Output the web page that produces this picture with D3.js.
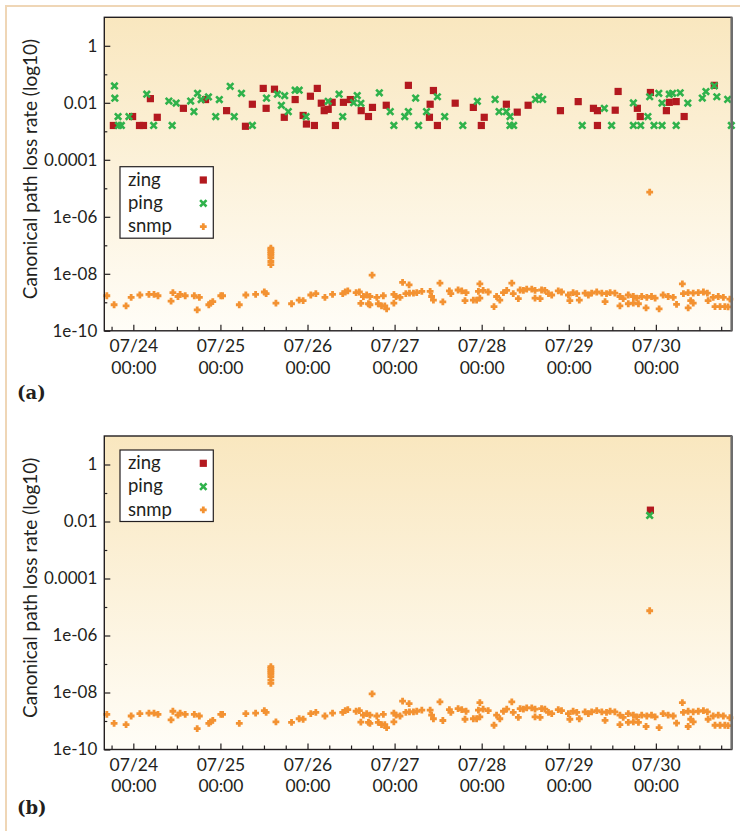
<!DOCTYPE html>
<html>
<head>
<meta charset="utf-8">
<script src="https://cdn.jsdelivr.net/npm/d3@7"></script>
<style>
  body { margin: 0; background: #fff; }
  text { fill: #231f20; }
</style>
</head>
<body>
<svg width="740" height="831"></svg>
<script>
// [hours since 07/23 00:00, loss rate]
const zing = [[18.5,1.6e-3],[23.8,3.3e-3],[25.7,1.6e-3],[26.8,1.6e-3],[28.7,1.4e-2],[30.6,3.1e-3],[37.8,6.4e-3],
  [43.9,1.3e-2],[49.7,5.3e-3],[54.9,1.5e-3],[56.8,8.9e-3],[59.8,3.2e-2],[60.6,6.4e-3],[62.9,3.0e-2],[65.6,3.1e-3],
  [68.6,1.3e-2],[70.8,3.6e-3],[71.7,1.8e-3],[72.8,1.7e-2],[73.9,1.6e-3],[74.7,3.2e-2],[75.8,9.7e-3],[76.6,5.3e-3],
  [77.7,5.9e-3],[78.8,1.04e-2],[79.7,1.6e-3],[81.9,1.04e-2],[83.8,1.3e-2],[86.8,5.3e-3],[88.8,3.3e-3],[89.9,6.9e-3],
  [93.7,8.2e-3],[99.8,4.1e-2],[105.6,3.1e-3],[105.8,8.9e-3],[106.7,2.7e-2],[107.8,1.6e-3],[112.7,9.7e-3],
  [117.7,6.9e-3],[119.9,1.6e-3],[120.7,3.1e-3],[126.8,8.9e-3],[129.8,4.7e-3],[132.8,8.2e-3],[141.7,5.3e-3],
  [146.6,1.1e-2],[150.8,6.4e-3],[151.9,5.3e-3],[151.9,1.6e-3],[156.8,5.5e-3],[157.6,2.5e-2],[162.9,6.4e-3],
  [163.7,3.3e-3],[166.5,2.3e-2],[170.9,5.3e-3],[171.7,1.04e-2],[173.6,1.1e-2],[175.8,3.3e-3],[184.1,4.1e-2]];

const ping = [[18.8,3.9e-2],[18.9,1.45e-2],[19.8,3.3e-3],[19.9,1.6e-3],[20.7,1.6e-3],[22.8,3.3e-3],[27.7,2.0e-2],
  [29.6,1.6e-3],[33.8,1.15e-2],[34.7,1.6e-3],[35.8,9.8e-3],[39.8,1.15e-2],[40.7,4.9e-3],[41.7,2.15e-2],[42.7,1.3e-2],
  [44.7,1.6e-2],[46.7,3.3e-3],[47.7,1.3e-2],[50.7,3.8e-2],[51.8,3.3e-3],[53.8,2.15e-2],[56.8,1.6e-3],[60.7,1.46e-2],
  [63.7,2.0e-2],[64.8,8.2e-3],[65.7,1.77e-2],[66.7,4.9e-3],[68.6,2.76e-2],[69.7,2.76e-2],[71.6,3.3e-3],[77.7,1.13e-2],
  [80.7,2.0e-2],[81.7,3.3e-3],[84.7,1.01e-2],[85.7,1.8e-2],[86.7,9.6e-3],[91.8,2.25e-2],[94.8,4.9e-3],[95.8,1.6e-3],
  [98.8,3.3e-3],[99.8,4.9e-3],[101.8,1.47e-2],[102.6,1.6e-3],[104.8,4.9e-3],[107.8,1.63e-2],[109.8,3.3e-3],
  [114.8,1.6e-3],[118.8,1.13e-2],[123.7,1.32e-2],[124.8,4.9e-3],[126.8,4.9e-3],[127.8,3.3e-3],[127.8,1.6e-3],
  [128.8,1.6e-3],[134.8,1.32e-2],[135.8,1.63e-2],[136.8,1.32e-2],[147.7,1.6e-3],[153.8,6.4e-3],[155.8,1.6e-3],
  [161.8,9.9e-3],[161.8,1.6e-3],[163.8,1.6e-3],[165.8,3.3e-3],[166.3,1.63e-2],[167.5,1.6e-3],[168.8,2.15e-2],
  [169.7,1.6e-3],[169.7,9.8e-3],[171.7,2.0e-2],[172.6,2.15e-2],[174.7,2.25e-2],[173.6,1.6e-3],[176.8,9.8e-3],
  [180.8,1.47e-2],[181.8,2.49e-2],[184.1,3.96e-2],[184.8,1.63e-2],[187.8,1.32e-2],[188.8,1.6e-3]];

const snmp = [[16.7,1.7e-9],[18.7,8.2e-10],[22.0,7.5e-10],[23.4,1.5e-9],[25.8,1.8e-9],[28.3,1.9e-9],[29.7,1.9e-9],
  [30.8,1.7e-9],[34.4,1.1e-9],[34.9,2.2e-9],[36.3,1.6e-9],[36.9,1.9e-9],[38.3,1.7e-9],[40.8,1.7e-9],[41.6,5.4e-10],
  [42.2,1.5e-9],[44.8,8.2e-10],[45.3,9.3e-10],[45.9,1.05e-9],[48.1,1.7e-9],[48.6,1.7e-9],[53.2,8.2e-10],[55.0,1.8e-9],
  [57.7,1.9e-9],[60.1,2.3e-9],[60.6,2.0e-9],
  [61.9,8.0e-8],[61.9,7.0e-8],[61.9,6.0e-8],[61.9,5.2e-8],[61.9,4.4e-8],[61.9,3.6e-8],[61.9,2.7e-8],[61.9,2.1e-8],
  [63.3,9.3e-10],[67.6,8.9e-10],[69.7,1.2e-9],[70.8,1.15e-9],[72.9,1.8e-9],[74.3,2.0e-9],[76.8,1.5e-9],[78.9,1.9e-9],
  [81.7,2.0e-9],[82.4,2.3e-9],[83.1,2.5e-9],[85.4,2.2e-9],[86.3,2.3e-9],[86.7,9.1e-10],[87.4,1.6e-9],[88.3,1.8e-9],
  [88.8,8.9e-10],[89.8,9.0e-9],[89.2,1.6e-9],[91.1,1.5e-9],[92.9,1.7e-9],[89.2,8.2e-10],[91.5,8.9e-10],[92.4,7.5e-10],
  [93.8,5.9e-10],[93.3,7.5e-10],[95.8,1.9e-9],[95.8,9.3e-10],[96.4,1.6e-9],[97.5,1.5e-9],[98.2,5.0e-9],[99.1,2.0e-9],
  [100.1,2.1e-9],[101.2,2.1e-9],[102.1,2.2e-9],[103.5,2.4e-9],[100.0,4.1e-9],[105.8,2.4e-9],[106.7,1.2e-9],
  [106.2,1.6e-9],[108.5,4.7e-9],[109.3,1.04e-9],[111.1,2.5e-9],[111.5,2.0e-9],[113.5,2.7e-9],[114.5,2.5e-9],
  [115.7,2.2e-9],[115.4,1.15e-9],[117.7,1.2e-9],[118.6,1.2e-9],[119.5,4.4e-9],[119.1,2.4e-9],[120.4,2.6e-9],
  [121.8,2.3e-9],[119.5,1.4e-9],[123.4,7.1e-10],[124.1,1.6e-9],[125.0,1.2e-9],[126.0,2.2e-9],[126.9,2.6e-9],
  [128.3,4.7e-9],[128.7,2.0e-9],[130.1,1.35e-9],[130.6,2.7e-9],[131.5,2.6e-9],[132.4,2.9e-9],[133.8,2.9e-9],
  [134.7,2.6e-9],[134.7,1.4e-9],[136.1,1.35e-9],[136.5,2.7e-9],[137.4,2.6e-9],[138.4,2.0e-9],[139.3,1.8e-9],
  [141.1,2.5e-9],[142.0,2.3e-9],[143.9,1.8e-9],[144.3,1.15e-9],[145.2,2.2e-9],[146.2,2.0e-9],[146.9,1.2e-9],
  [148.5,2.1e-9],[149.4,1.8e-9],[150.3,2.1e-9],[151.7,2.3e-9],[153.1,2.1e-9],[154.4,2.0e-9],[155.4,2.2e-9],
  [156.7,2.1e-9],[154.0,1.05e-9],[158.1,1.6e-9],[159.0,1.35e-9],[160.4,1.8e-9],[161.8,1.6e-9],[162.7,1.4e-9],
  [164.1,1.6e-9],[165.5,1.5e-9],[166.8,1.6e-9],[167.8,1.4e-9],[158.1,7.5e-10],[160.4,8.9e-10],[161.8,9.3e-10],
  [163.2,8.9e-10],[165.3,6.4e-10],[168.9,5.9e-10],[170.0,1.8e-9],[171.4,1.6e-9],[172.8,1.5e-9],[173.7,8.4e-10],
  [175.3,4.4e-9],[175.6,2.0e-9],[176.9,2.2e-9],[178.3,2.1e-9],[179.7,2.2e-9],[181.1,2.3e-9],[182.2,2.1e-9],
  [176.9,6.4e-10],[177.6,1.15e-9],[178.3,9.3e-10],[182.4,1.15e-9],[183.8,1.5e-9],[185.2,1.6e-9],[186.6,1.5e-9],
  [188.4,1.3e-9],[184.3,7.1e-10],[185.7,7.1e-10],[187.0,7.1e-10],[187.9,6.9e-10],[166.3,7.4e-6]];

// panel (b): only the samples where all three tools agree on loss
const zingB = [[166.5,2.5e-2]];
const pingB = [[166.3,1.63e-2]];

const seriesNames = ["zing", "ping", "snmp"];
const yTickValues = [1e-10, 1e-8, 1e-6, 1e-4, 1e-2, 1];
const yTickLabels = ["1e-10", "1e-08", "1e-06", "0.0001", "0.01", "1"];
const yMinorValues = [1e-9, 1e-7, 1e-5, 1e-3, 1e-1];
const yTitle = "Canonical path loss rate (log10)";

const colors = { zing: "#b3191f", ping: "#2fb24b", snmp: "#f39232" };
const sans = "Lato, 'Open Sans', sans-serif";

const base = new Date(2008, 6, 23);
const t = h => d3.timeMinute.offset(base, Math.round(h * 60));

const svg = d3.select("svg");
const W = 627.4, H = 313.5, left = 104.3;

// outer frame
svg.append("path").attr("d", "M6,831V6H740")
  .attr("fill", "none").attr("stroke", "#efd6b6").attr("stroke-width", 2);

const defs = svg.append("defs");
const grad = defs.append("linearGradient").attr("id", "bg").attr("x1", 0).attr("x2", 0).attr("y1", 0).attr("y2", 1);
grad.append("stop").attr("offset", "0%").attr("stop-color", "#f9e7bf");
grad.append("stop").attr("offset", "100%").attr("stop-color", "#fffdf7");

const x = d3.scaleTime().domain([t(16), t(188.9)]).range([0, W]);
const y = d3.scaleLog().domain([1e-10, 10]).range([H, 0]);

const dayTicks = d3.timeDay.range(t(24), t(169));
const minorTicks = d3.timeHour.every(6).range(t(16), t(189)).filter(d => d.getHours() !== 0);
const fmtDay = d3.timeFormat("%m/%d"), fmtHour = d3.timeFormat("%H:%M");

const panels = [
  { top: 17.3, label: "(a)", labelY: 399, legendTop: 166.7, zing: zing, ping: ping },
  { top: 436, label: "(b)", labelY: 814, legendTop: 450, zing: zingB, ping: pingB }
];

function marker(sel, name) {
  if (name === "zing") {
    sel.append("rect").attr("x", -3.6).attr("y", -3.6).attr("width", 7.2).attr("height", 7.2)
      .attr("fill", colors.zing);
  } else if (name === "ping") {
    sel.append("path").attr("d", "M-3.2,-3.2L3.2,3.2M-3.2,3.2L3.2,-3.2")
      .attr("stroke", colors.ping).attr("stroke-width", 2.6).attr("fill", "none");
  } else {
    sel.append("path").attr("d", "M-3.4,0H3.4M0,-3.4V3.4")
      .attr("stroke", colors.snmp).attr("stroke-width", 2.8).attr("fill", "none");
  }
}

panels.forEach(p => {
  const g = svg.append("g").attr("transform", `translate(${left},${p.top})`);
  g.append("rect").attr("width", W).attr("height", H).attr("fill", "url(#bg)");

  const sets = { zing: p.zing, ping: p.ping, snmp: snmp };
  seriesNames.forEach(name => {
    g.append("g").selectAll("g").data(sets[name]).join("g")
      .attr("transform", d => `translate(${x(t(d[0]))},${y(d[1])})`)
      .each(function () { marker(d3.select(this), name); });
  });

  // axes
  const yAxis = d3.axisLeft(y).tickValues(yTickValues).tickSize(-6).tickPadding(7)
    .tickFormat((d, i) => yTickLabels[i]);
  const ya = g.append("g").call(yAxis);
  ya.select(".domain").remove();
  ya.selectAll("text").style("font-size", "17px").style("font-family", sans);
  ya.selectAll("line").attr("stroke", "#231f20").attr("stroke-width", 1.2);

  const yMinor = g.append("g").call(d3.axisLeft(y).tickValues(yMinorValues).tickSize(-3).tickFormat(""));
  yMinor.select(".domain").remove();
  yMinor.selectAll("line").attr("stroke", "#231f20").attr("stroke-width", 1.2);

  const xAxis = d3.axisBottom(x).tickValues(dayTicks).tickSize(-6).tickPadding(0).tickFormat("");
  const xa = g.append("g").attr("transform", `translate(0,${H})`).call(xAxis);
  xa.select(".domain").remove();
  xa.selectAll("line").attr("stroke", "#231f20").attr("stroke-width", 1.2);
  // two-line tick labels as separate texts so their boxes stay apart
  xa.selectAll(".tick").each(function (d) {
    const tk = d3.select(this);
    tk.select("text").remove();
    tk.append("text").attr("y", 21.7).attr("text-anchor", "middle")
      .style("font-size", "17.5px").style("font-family", sans).text(fmtDay(d));
    tk.append("text").attr("y", 42.8).attr("text-anchor", "middle")
      .style("font-size", "17.5px").style("font-family", sans).text(fmtHour(d));
  });

  const xMinor = g.append("g").attr("transform", `translate(0,${H})`)
    .call(d3.axisBottom(x).tickValues(minorTicks).tickSize(-4).tickFormat(""));
  xMinor.select(".domain").remove();
  xMinor.selectAll("line").attr("stroke", "#231f20").attr("stroke-width", 1.2);

  // plot frame
  g.append("rect").attr("width", W).attr("height", H).attr("fill", "none")
    .attr("stroke", "#231f20").attr("stroke-width", 1.4);
  g.append("line").attr("x1", W).attr("x2", W).attr("y1", 0).attr("y2", H)
    .attr("stroke", "#6d6d6d").attr("stroke-width", 2.6);

  // y title
  svg.append("text")
    .attr("transform", `translate(37,${p.top + H / 2 - 5}) rotate(-90)`)
    .attr("text-anchor", "middle").style("font-size", "19px").style("font-family", sans).text(yTitle);

  // legend
  const lg = svg.append("g").attr("transform", `translate(120,${p.legendTop})`);
  lg.append("rect").attr("width", 93.3).attr("height", 71.5).attr("fill", "#fff")
    .attr("stroke", "#231f20").attr("stroke-width", 1.2);
  seriesNames.forEach((name, i) => {
    lg.append("text").attr("x", 8).attr("y", 19 + i * 23.3)
      .style("font-size", "18.5px").style("font-family", sans).text(name);
    const m = lg.append("g").attr("transform", `translate(83.3,${13.3 + i * 23.3})`);
    marker(m, name);
  });

  // panel label
  svg.append("text").attr("x", 17).attr("y", p.labelY)
    .style("font-family", "'DejaVu Serif', serif").style("font-weight", "bold").style("font-size", "18px")
    .text(p.label);
});
</script>
</body>
</html>
